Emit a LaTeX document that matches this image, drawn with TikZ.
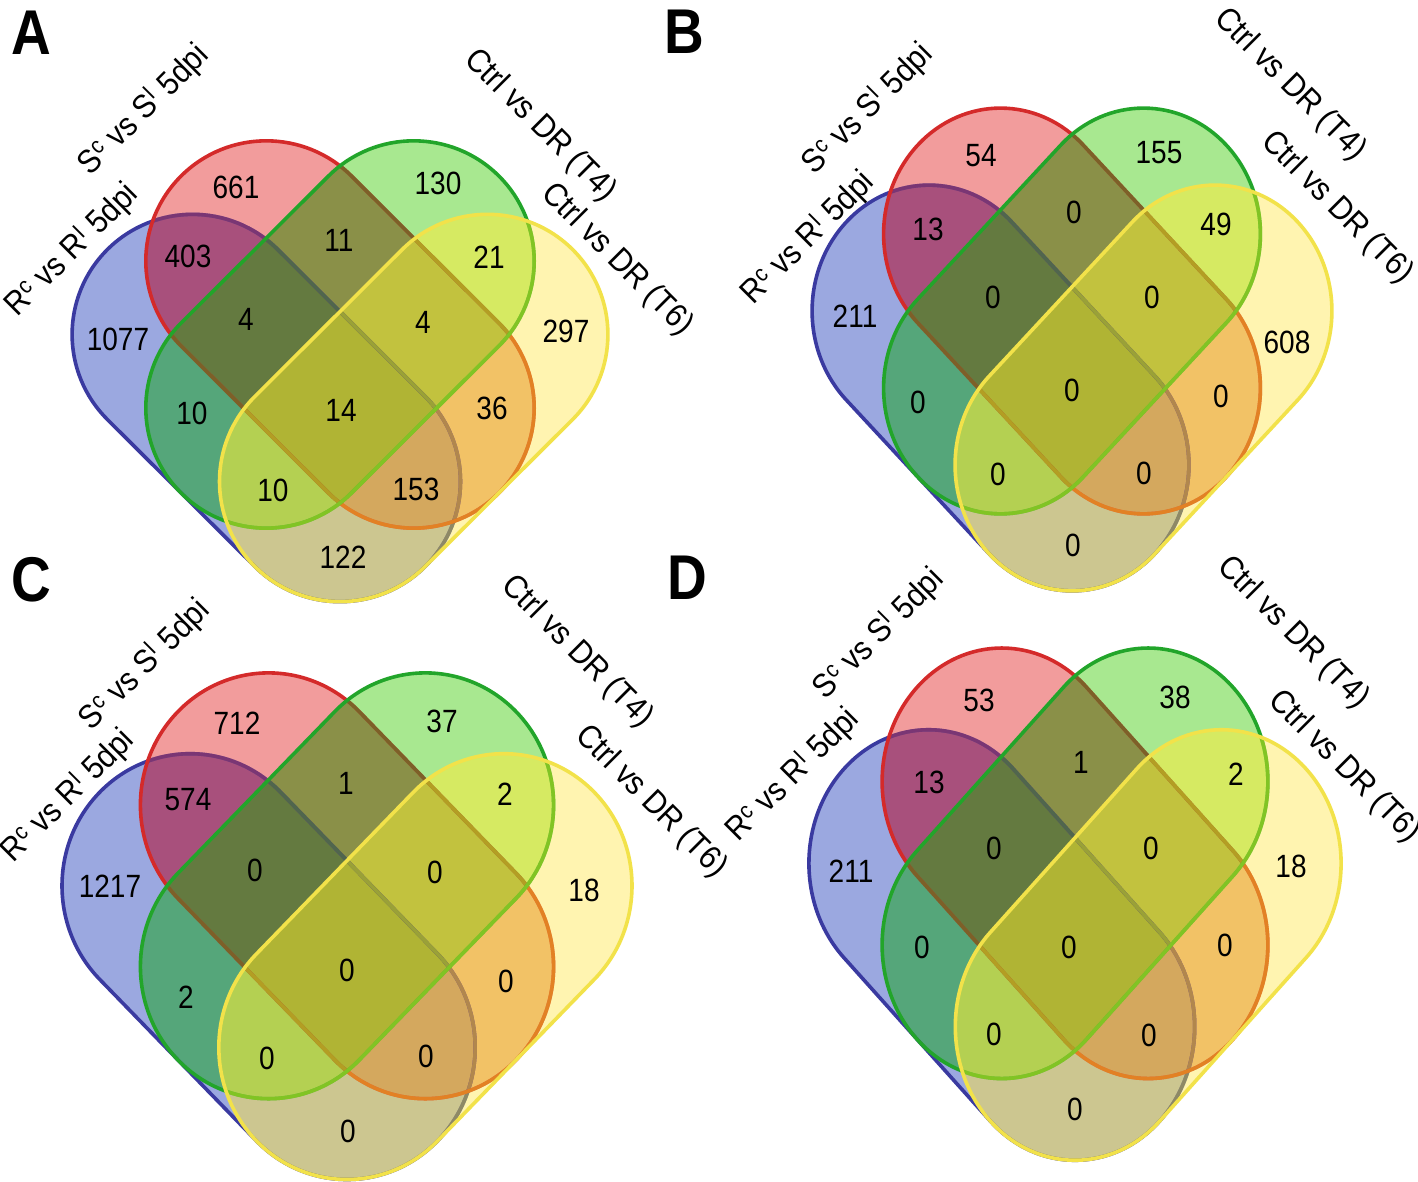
\documentclass[tikz,border=0pt]{standalone}
\usepackage{fontspec}
\setmainfont{Liberation Sans}
\definecolor{fB}{HTML}{9BA8E0}
\definecolor{fR}{HTML}{F29C9C}
\definecolor{fG}{HTML}{A8E890}
\definecolor{fY}{HTML}{FFF4B0}
\definecolor{fRB}{HTML}{A8507C}
\definecolor{fRG}{HTML}{8A9048}
\definecolor{fBG}{HTML}{55A67A}
\definecolor{fRY}{HTML}{F2C266}
\definecolor{fBY}{HTML}{CCC690}
\definecolor{fGY}{HTML}{D6EA62}
\definecolor{fRBG}{HTML}{647A40}
\definecolor{fRGY}{HTML}{C2C23E}
\definecolor{fRBY}{HTML}{D4A85E}
\definecolor{fBGY}{HTML}{B4D052}
\definecolor{fRBGY}{HTML}{B0B434}
\definecolor{lB}{HTML}{3A3AA0}
\definecolor{lR}{HTML}{D42A2A}
\definecolor{lG}{HTML}{22A52A}
\definecolor{lY}{HTML}{F2E24A}
\definecolor{tRc}{HTML}{DC3232}
\definecolor{tGc}{HTML}{289628}
\definecolor{tYc}{HTML}{F5EB1E}
\tikzset{
  sB/.style={draw=lB, line width=3.6pt},
  sR/.style={draw=lR, line width=3.6pt},
  sG/.style={draw=lG, line width=3.6pt},
  sY/.style={draw=lY, line width=3.6pt},
  tR/.style={draw=tRc, draw opacity=.4, line width=3.6pt},
  tG/.style={draw=tGc, draw opacity=.5, line width=3.6pt},
  tY/.style={draw=tYc, draw opacity=.45, line width=3.6pt},
  num/.style={font=\fontsize{28}{30}\selectfont, inner sep=0pt},
  lab/.style={font=\fontsize{30}{32}\selectfont, inner sep=0pt},
  panlab/.style={font=\fontsize{55}{60}\selectfont\bfseries, inner sep=0pt}
}
\newcommand{\nm}[1]{\scalebox{1}[1.15]{#1}}
\newcommand{\lb}[1]{\scalebox{1}[1.1]{#1}}
% capsule: upper cap centre (#1,#2), mirror sign #3
\newcommand{\capsule}[3]{({#1+#3*1.1561},{#2-1.1561}) -- ({#1+#3*3.1561},{#2+0.8439})
 .. controls ({#1+#3*3.7946},{#2+1.4824}) and ({#1+#3*3.7946},{#2+2.5176}) .. ({#1+#3*3.1561},{#2+3.1561})
 .. controls ({#1+#3*2.5176},{#2+3.7946}) and ({#1+#3*1.4824},{#2+3.7946}) .. ({#1+#3*0.8439},{#2+3.1561})
 -- ({#1-#3*1.1561},{#2+1.1561})
 .. controls ({#1-#3*1.7946},{#2+0.5176}) and ({#1-#3*1.7946},{#2-0.5176}) .. ({#1-#3*1.1561},{#2-1.1561})
 .. controls ({#1-#3*0.5176},{#2-1.7946}) and ({#1+#3*0.5176},{#2-1.7946}) .. ({#1+#3*1.1561},{#2-1.1561}) -- cycle}
\newcommand{\pB}{\capsule{-2}{1}{1}}
\newcommand{\pR}{\capsule{-1}{0}{1}}
\newcommand{\pG}{\capsule{1}{0}{(-1)}}
\newcommand{\pY}{\capsule{2}{1}{(-1)}}
\newcommand{\venn}[4]{%
\begin{scope}[shift={(#1,#2)},x={(#3pt,0pt)},y={(0pt,-#4pt)}]
 % region fills
 \fill[fB] \pB;
 \fill[fR] \pR;
 \begin{scope}\clip \pR; \fill[fRB] \pB; \end{scope}
 \fill[fG] \pG;
 \begin{scope}\clip \pG; \fill[fBG] \pB; \fill[fRG] \pR;
   \begin{scope}\clip \pR; \fill[fRBG] \pB; \end{scope}\end{scope}
 \fill[fY] \pY;
 \begin{scope}\clip \pY; \fill[fBY] \pB; \fill[fRY] \pR;
   \begin{scope}\clip \pR; \fill[fRBY] \pB; \end{scope}
   \fill[fGY] \pG;
   \begin{scope}\clip \pG; \fill[fBGY] \pB; \fill[fRGY] \pR;
     \begin{scope}\clip \pR; \fill[fRBGY] \pB; \end{scope}\end{scope}\end{scope}
 % outlines, tinted where later sets lie over them
 \draw[sB] \pB;
 \begin{scope}\clip \pR; \draw[tR] \pB; \end{scope}
 \begin{scope}\clip \pG; \draw[tG] \pB; \end{scope}
 \begin{scope}\clip \pY; \draw[tY] \pB; \end{scope}
 \draw[sR] \pR;
 \begin{scope}\clip \pG; \draw[tG] \pR; \end{scope}
 \begin{scope}\clip \pY; \draw[tY] \pR; \end{scope}
 \draw[sG] \pG;
 \begin{scope}\clip \pY; \draw[tY] \pG; \end{scope}
 \draw[sY] \pY;
\end{scope}}
\newcommand{\RL}{R\textsuperscript{c} vs R\textsuperscript{I} 5dpi}
\newcommand{\SL}{S\textsuperscript{c} vs S\textsuperscript{I} 5dpi}
\begin{document}
\begin{tikzpicture}[x=1pt,y=-1pt]
\useasboundingbox (0,0) rectangle (1418,1182);
\fill[white] (0,0) rectangle (1418,1182);
\venn{340}{261}{73.7}{73.5}
\venn{1072}{234}{71.5}{77}
\venn{347}{805}{78.4}{80.8}
\venn{1075}{781.6}{73.2}{81.7}
% panel letters
\node[panlab] (pA) at (31,33) {\nm{A}};
\node[panlab] (pB) at (684,32) {\nm{B}};
\node[panlab] (pC) at (31,580) {\nm{C}};
\node[panlab] (pD) at (687,578) {\nm{D}};
% set labels
\node[lab, rotate=45] (aR) at (72,250) {\lb{\RL}};
\node[lab, rotate=45] (aS) at (144,110) {\lb{\SL}};
\node[lab, rotate=-45] (aT4) at (540,126) {\lb{Ctrl vs DR (T4)}};
\node[lab, rotate=-45] (aT6) at (617,260) {\lb{Ctrl vs DR (T6)}};
\node[lab, rotate=45] (bR) at (808,238) {\lb{\RL}};
\node[lab, rotate=45] (bS) at (868,109) {\lb{\SL}};
\node[lab, rotate=-45] (bT4) at (1290,85) {\lb{Ctrl vs DR (T4)}};
\node[lab, rotate=-45] (bT6) at (1337,208) {\lb{Ctrl vs DR (T6)}};
\node[lab, rotate=45] (cR) at (68,796) {\lb{\RL}};
\node[lab, rotate=45] (cS) at (145,665) {\lb{\SL}};
\node[lab, rotate=-45] (cT4) at (577,652) {\lb{Ctrl vs DR (T4)}};
\node[lab, rotate=-45] (cT6) at (651,802) {\lb{Ctrl vs DR (T6)}};
\node[lab, rotate=45] (dR) at (793,775) {\lb{\RL}};
\node[lab, rotate=45] (dS) at (879,634) {\lb{\SL}};
\node[lab, rotate=-45] (dT4) at (1293,633) {\lb{Ctrl vs DR (T4)}};
\node[lab, rotate=-45] (dT6) at (1344,767) {\lb{Ctrl vs DR (T6)}};
% panel A numbers
\node[num] (a1) at (236,187) {\nm{661}};
\node[num] (a2) at (438,183) {\nm{130}};
\node[num] (a3) at (188,256) {\nm{403}};
\node[num] (a4) at (339,240) {\nm{11}};
\node[num] (a5) at (489,257) {\nm{21}};
\node[num] (a6) at (118,339) {\nm{1077}};
\node[num] (a7) at (246,319) {\nm{4}};
\node[num] (a8) at (423,322) {\nm{4}};
\node[num] (a9) at (566,331) {\nm{297}};
\node[num] (a10) at (192,413) {\nm{10}};
\node[num] (a11) at (341,410) {\nm{14}};
\node[num] (a12) at (492,408) {\nm{36}};
\node[num] (a13) at (273,490) {\nm{10}};
\node[num] (a14) at (416,489) {\nm{153}};
\node[num] (a15) at (343,557) {\nm{122}};
% panel B numbers
\node[num] (b1) at (981,156) {\nm{54}};
\node[num] (b2) at (1159,153) {\nm{155}};
\node[num] (b3) at (928,229) {\nm{13}};
\node[num] (b4) at (1074,212) {\nm{0}};
\node[num] (b5) at (1216,224) {\nm{49}};
\node[num] (b6) at (855,316) {\nm{211}};
\node[num] (b7) at (993,297) {\nm{0}};
\node[num] (b8) at (1152,297) {\nm{0}};
\node[num] (b9) at (1287,342) {\nm{608}};
\node[num] (b10) at (918,402) {\nm{0}};
\node[num] (b11) at (1072,390) {\nm{0}};
\node[num] (b12) at (1221,396) {\nm{0}};
\node[num] (b13) at (998,474) {\nm{0}};
\node[num] (b14) at (1144,473) {\nm{0}};
\node[num] (b15) at (1073,545) {\nm{0}};
% panel C numbers
\node[num] (c1) at (237,723) {\nm{712}};
\node[num] (c2) at (442,721) {\nm{37}};
\node[num] (c3) at (188,800) {\nm{574}};
\node[num] (c4) at (346,783) {\nm{1}};
\node[num] (c5) at (505,794) {\nm{2}};
\node[num] (c6) at (110,886) {\nm{1217}};
\node[num] (c7) at (255,870) {\nm{0}};
\node[num] (c8) at (435,872) {\nm{0}};
\node[num] (c9) at (584,890) {\nm{18}};
\node[num] (c10) at (186,997) {\nm{2}};
\node[num] (c11) at (347,970) {\nm{0}};
\node[num] (c12) at (506,981) {\nm{0}};
\node[num] (c13) at (267,1058) {\nm{0}};
\node[num] (c14) at (426,1056) {\nm{0}};
\node[num] (c15) at (348,1131) {\nm{0}};
% panel D numbers
\node[num] (d1) at (979,700) {\nm{53}};
\node[num] (d2) at (1175,697) {\nm{38}};
\node[num] (d3) at (929,782) {\nm{13}};
\node[num] (d4) at (1081,762) {\nm{1}};
\node[num] (d5) at (1236,774) {\nm{2}};
\node[num] (d6) at (851,871) {\nm{211}};
\node[num] (d7) at (994,848) {\nm{0}};
\node[num] (d8) at (1151,848) {\nm{0}};
\node[num] (d9) at (1291,866) {\nm{18}};
\node[num] (d10) at (922,947) {\nm{0}};
\node[num] (d11) at (1069,947) {\nm{0}};
\node[num] (d12) at (1225,945) {\nm{0}};
\node[num] (d13) at (994,1034) {\nm{0}};
\node[num] (d14) at (1149,1035) {\nm{0}};
\node[num] (d15) at (1075,1109) {\nm{0}};
\end{tikzpicture}
\end{document}
